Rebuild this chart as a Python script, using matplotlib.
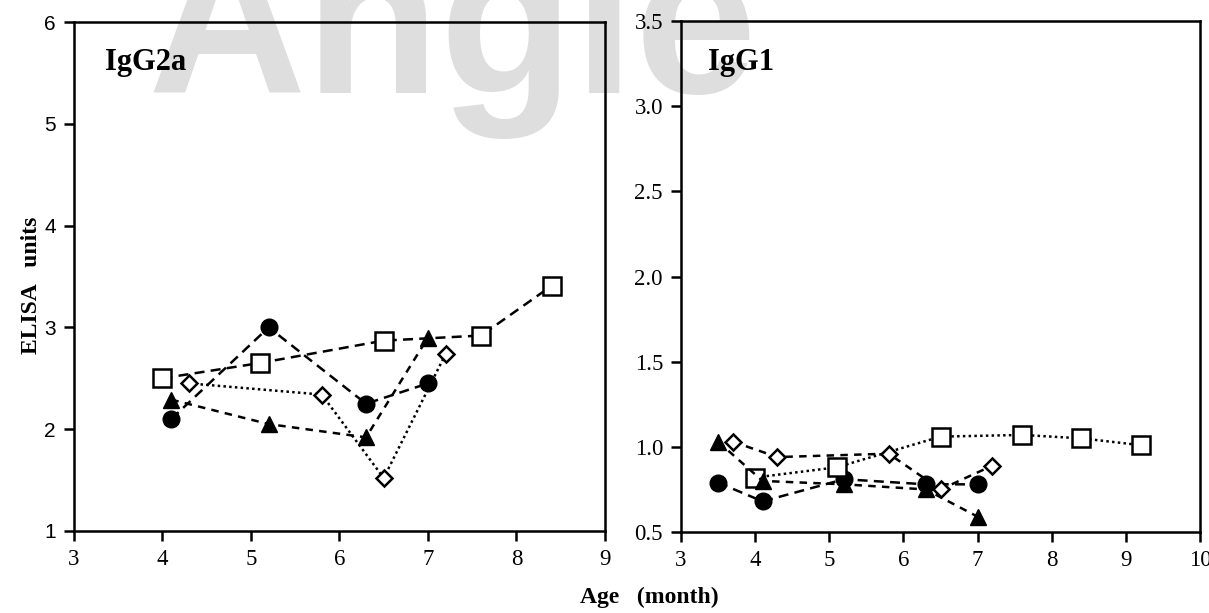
import matplotlib.pyplot as plt
import numpy as np

# IgG2a panel (left)
g2a_circle_x = [4.1, 5.2, 6.3, 7.0]
g2a_circle_y = [2.10, 3.00, 2.25, 2.45]
g2a_square_x = [4.0, 5.1, 6.5, 7.6, 8.4]
g2a_square_y = [2.50, 2.65, 2.87, 2.92, 3.41]
g2a_tri_x = [4.1, 5.2, 6.3, 7.0]
g2a_tri_y = [2.29, 2.05, 1.92, 2.90]
g2a_diam_x = [4.3, 5.8, 6.5, 7.2]
g2a_diam_y = [2.45, 2.34, 1.52, 2.74]

# IgG1 panel (right)
g1_circle_x = [3.5, 4.1, 5.2, 6.3, 7.0]
g1_circle_y = [0.79, 0.68, 0.81, 0.78, 0.78]
g1_square_x = [4.0, 5.1, 6.5, 7.6, 8.4, 9.2]
g1_square_y = [0.82, 0.88, 1.06, 1.07, 1.05, 1.01]
g1_tri_x = [3.5, 4.1, 5.2, 6.3, 7.0]
g1_tri_y = [1.03, 0.80, 0.78, 0.75, 0.59]
g1_diam_x = [3.7, 4.3, 5.8, 6.5, 7.2]
g1_diam_y = [1.03, 0.94, 0.96, 0.75, 0.89]

serif = 'Liberation Serif'
plt.rcParams['font.family'] = serif

fig = plt.figure(figsize=(12.09, 6.13), dpi=100)

# faint watermark behind the panels
fig.text(0.122, 0.848, 'Angle', fontsize=158, fontweight='bold',
         family='Liberation Sans', color='#dedede', va='baseline', zorder=-5)

ax1 = fig.add_axes([0.0612, 0.1338, 0.4392, 0.8303])
ax2 = fig.add_axes([0.5633, 0.1321, 0.4293, 0.8336])

dash = (0, (4, 2.5))
dash_s = (0, (3, 2.5))
dot = (0, (1, 1.3))

def draw(ax, cx, cy, sx, sy, tx, ty, dx, dy, sq_style, dm_style):
    ax.plot(cx, cy, color='black', ls=dash, lw=1.8, marker='o', ms=12,
            mfc='black', mec='black', zorder=3)
    ax.plot(sx, sy, color='black', ls=sq_style, lw=1.8, marker='s', ms=13,
            mfc='white', mec='black', mew=1.8, zorder=3)
    ax.plot(tx, ty, color='black', ls=dash_s, lw=1.8, marker='^', ms=12,
            mfc='black', mec='black', zorder=3)
    ax.plot(dx, dy, color='black', ls=dm_style, lw=1.8, marker='D', ms=8,
            mfc='white', mec='black', mew=1.8, zorder=3)

draw(ax1, g2a_circle_x, g2a_circle_y, g2a_square_x, g2a_square_y,
     g2a_tri_x, g2a_tri_y, g2a_diam_x, g2a_diam_y, dash, dot)
draw(ax2, g1_circle_x, g1_circle_y, g1_square_x, g1_square_y,
     g1_tri_x, g1_tri_y, g1_diam_x, g1_diam_y, dot, dash_s)

ax1.set_xlim(3, 9)
ax1.set_ylim(1, 6)
ax1.set_xticks(range(3, 10))
ax1.set_yticks(range(1, 7))
ax2.set_xlim(3, 10)
ax2.set_ylim(0.5, 3.5)
ax2.set_xticks(range(3, 11))
ax2.set_yticks(np.arange(0.5, 3.51, 0.5))
ax2.set_yticklabels(['%.1f' % v for v in np.arange(0.5, 3.51, 0.5)])

for ax in (ax1, ax2):
    ax.set_facecolor('none')
    ax.set_zorder(2)
    for s in ax.spines.values():
        s.set_linewidth(1.8)
    ax.tick_params(direction='out', length=7, width=1.8, labelsize=16.5,
                   pad=6)

for lab in ax1.get_yticklabels():
    lab.set_family('Liberation Sans')
    lab.set_fontsize(15)

ax1.text(0.058, 0.906, 'IgG2a', transform=ax1.transAxes, fontsize=22,
         fontweight='bold', va='baseline')
ax2.text(0.052, 0.904, 'IgG1', transform=ax2.transAxes, fontsize=22,
         fontweight='bold', va='baseline')

fig.text(0.026, 0.535, 'ELISA   units', rotation=90, fontsize=17,
         fontweight='bold', ha='center', va='center')
fig.text(0.537, 0.026, 'Age   (month)', fontsize=17, fontweight='bold',
         ha='center', va='center')

fig.savefig('out.png', dpi=100)
